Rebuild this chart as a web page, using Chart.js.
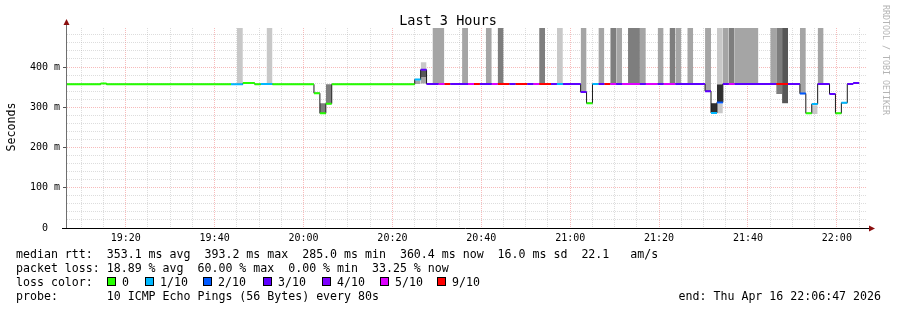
<!DOCTYPE html>
<html><head><meta charset="utf-8">
<script src="https://cdn.jsdelivr.net/npm/chart.js@4/dist/chart.umd.min.js"></script>
<style>html,body{margin:0;padding:0;background:#fff;}canvas{display:block;}</style>
</head><body>
<canvas id="c" width="897" height="310"></canvas>
<script>
// ---------------- data ----------------
const windowStart = '19:06:47';
const windowEnd = '22:06:47';
const titleText = 'Last 3 Hours';
const yAxisTitle = 'Seconds';
const watermark = 'RRDTOOL / TOBI OETIKER';

// median RTT runs (80 s steps): start time, median (ms), lost pings of 10
const medStart = ['19:06:21','19:14:21','19:15:41','19:43:41','19:46:21','19:49:01','19:50:21','19:53:01',
  '20:02:21','20:03:41','20:05:01','20:06:21','20:25:01','20:26:21','20:27:41','20:30:21','20:31:41','20:33:01',
  '20:37:01','20:38:21','20:39:41','20:42:21','20:43:41','20:46:21','20:47:41','20:50:21','20:51:41','20:53:01',
  '20:55:41','20:57:01','20:58:21','21:02:21','21:03:41','21:05:01','21:06:21','21:07:41','21:09:01','21:10:21',
  '21:11:41','21:15:41','21:17:01','21:19:41','21:21:01','21:23:41','21:30:21','21:31:41','21:33:01','21:34:21',
  '21:35:41','21:37:01','21:46:21','21:49:01','21:51:41','21:53:01','21:54:21','21:55:41','21:58:21','21:59:41',
  '22:01:01','22:02:21','22:03:41'];
const medValue = [357,359,357,357,360,357,358,357,
  335,285,309,357,369,393,358,358,358,358,
  358,358,358,358,358,358,358,358,358,358,
  358,358,358,338,310,358,358,358,358,358,
  358,358,358,358,358,358,340,286,312,358,
  358,358,358,358,334,285,308,358,333,285,
  311,358,360];
const medLoss = [0,0,0,1,0,0,1,0,
  0,0,0,0,1,3,3,5,6,3,
  5,6,3,5,6,3,6,3,5,6,
  3,1,3,3,0,1,3,6,5,3,
  5,3,5,3,5,3,3,1,2,3,
  5,3,6,3,2,0,1,3,3,0,
  1,3,3];
const medEnd = '22:05:01';

// smoke (ping spread) bands
const smokeFrom = ['19:45:01','19:51:41','20:03:41','20:05:01','20:25:01','20:26:21','20:26:21','20:26:21',
  '20:29:01','20:35:41','20:41:01','20:43:41','20:53:01','20:57:01','21:02:21','21:06:21','21:09:01','21:10:21',
  '21:13:01','21:15:41','21:19:41','21:22:21','21:23:41','21:26:21','21:30:21','21:31:41','21:33:01','21:33:01',
  '21:33:01','21:34:21','21:35:41','21:37:01','21:45:01','21:46:21','21:47:41','21:51:41','21:54:21','21:55:41'];
const smokeTo = ['19:46:21','19:53:01','20:05:01','20:06:21','20:26:21','20:27:41','20:27:41','20:27:41',
  '20:31:41','20:37:01','20:42:21','20:45:01','20:54:21','20:58:21','21:03:41','21:07:41','21:10:21','21:11:41',
  '21:15:41','21:17:01','21:21:01','21:23:41','21:25:01','21:27:41','21:31:41','21:33:01','21:34:21','21:34:21',
  '21:34:21','21:35:41','21:37:01','21:42:21','21:46:21','21:47:41','21:49:01','21:53:01','21:55:41','21:57:01'];
const smokeLow = [357,358,285,310,358,359,374,395,
  358,358,358,358,358,358,338,358,358,358,
  358,358,358,358,358,358,340,286,357,313,
  285,358,358,358,358,333,310,334,283,358];
const smokeHigh = [520,520,310,357,367,374,391,412,
  520,520,520,520,520,520,520,520,520,520,
  520,520,520,520,520,520,520,310,520,357,
  309,520,520,520,520,520,520,520,305,520];
const smokeLevel = [1,1,3,3,2,2,4,1,
  2,2,2,3,3,1,2,2,3,2,
  3,2,2,3,2,2,2,5,1,5,
  1,2,3,2,2,3,4,2,1,2];

const lossLabels = ['0','1/10','2/10','3/10','4/10','5/10','9/10'];
const lossColors = ['#26ff00','#00b8ff','#0059ff','#5e00ff','#7e00ff','#dd00ff','#ff0000'];

const yTickValues = [0,100,200,300,400];
const yTickLabels = ['0  ','100 m','200 m','300 m','400 m'];
const xTickLabels = ['19:20','19:40','20:00','20:20','20:40','21:00','21:20','21:40','22:00'];

const legendLines = [
  'median rtt:  353.1 ms avg  393.2 ms max  285.0 ms min  360.4 ms now  16.0 ms sd  22.1   am/s',
  'packet loss: 18.89 % avg  60.00 % max  0.00 % min  33.25 % now',
  'loss color:',
  'probe:       10 ICMP Echo Pings (56 Bytes) every 80s'
];
const endText = 'end: Thu Apr 16 22:06:47 2026';

// ---------------- build ----------------
function sec(s){const p=s.split(':').map(Number);return p[0]*3600+p[1]*60+(p[2]||0);}
const shade = {1:'#c8c8c8',2:'#a5a5a5',3:'#7e7e7e',4:'#575757',5:'#2f2f2f'};
const X0 = sec(windowStart), X1 = sec(windowEnd);

const datasets = [];
lossColors.forEach((col,b)=>{
  const data=[];
  medStart.forEach((s,i)=>{
    if (Math.min(medLoss[i],6)!==b) return;
    const t0=sec(s), t1=sec(i+1<medStart.length?medStart[i+1]:medEnd);
    data.push({x:t0,y:medValue[i]},{x:t1,y:medValue[i]},{x:t1,y:null});
  });
  datasets.push({label:lossLabels[b],data,borderColor:col,borderWidth:2,pointRadius:0,fill:false,
    spanGaps:false,order:0,borderCapStyle:'butt'});
});
const blk = medStart.map((s,i)=>({x:sec(s),y:medValue[i]}));
blk.push({x:sec(medEnd),y:medValue[medValue.length-1]});
datasets.push({label:'median',data:blk,stepped:'before',borderColor:'#1a1a1a',borderWidth:1,pointRadius:0,fill:false,order:1});
smokeFrom.forEach((f,i)=>{
  datasets.push({label:'smoke',data:[{x:sec(f),y:smokeHigh[i]},{x:sec(smokeTo[i]),y:smokeHigh[i]}],
    borderColor:'rgba(0,0,0,0)',borderWidth:0,pointRadius:0,fill:{value:smokeLow[i]},
    backgroundColor:shade[smokeLevel[i]],order:2});
});

const xMajor = xTickLabels.map(sec);
const xTicks=[]; for(let t=Math.ceil(X0/300)*300;t<=X1;t+=300) xTicks.push(t);
const yTicks=[]; for(let v=0;v<=480;v+=20) yTicks.push(v);

const MINOR='rgba(175,175,175,0.42)', MAJOR='rgba(240,120,120,0.5)';
const MONO='DejaVu Sans Mono';
const decor = {
  id:'decor',
  afterDraw(chart){
    const c=chart.ctx, a=chart.chartArea;
    c.save();
    // axes
    c.strokeStyle='#6e6e6e'; c.lineWidth=1;
    c.beginPath(); c.moveTo(a.left-0.5,a.bottom); c.lineTo(a.left-0.5,a.top-4); c.stroke();
    c.strokeStyle='#000';
    c.beginPath(); c.moveTo(a.left-5,a.bottom+0.5); c.lineTo(a.right+2,a.bottom+0.5); c.stroke();
    c.fillStyle='#8b0f0f';
    c.beginPath(); c.moveTo(a.left-0.5,a.top-9); c.lineTo(a.left-3.5,a.top-3); c.lineTo(a.left+2.5,a.top-3); c.closePath(); c.fill();
    c.beginPath(); c.moveTo(a.right+8,a.bottom+0.5); c.lineTo(a.right+2,a.bottom-2.5); c.lineTo(a.right+2,a.bottom+3.5); c.closePath(); c.fill();
    // title
    c.fillStyle='#000'; c.textBaseline='alphabetic';
    c.font='13.5px "'+MONO+'"'; c.textAlign='center';
    c.fillText(titleText,448,25);
    // y unit
    c.save(); c.translate(15,127); c.rotate(-Math.PI/2);
    c.font='11.6px "'+MONO+'"'; c.fillText(yAxisTitle,0,0); c.restore();
    // watermark
    c.save(); c.translate(883,5); c.rotate(Math.PI/2);
    c.font='8.3px "'+MONO+'"'; c.fillStyle='#b4b4b4'; c.textAlign='left'; c.fillText(watermark,0,0); c.restore();
    // legend
    c.font='11.6px "'+MONO+'"'; c.textAlign='left'; c.fillStyle='#000';
    const base=[258,272,286,300];
    legendLines.forEach((t,i)=>c.fillText(t,16,base[i]));
    c.textAlign='right'; c.fillText(endText,881,300); c.textAlign='left';
    const boxX=[107,145,203,263,322,380,437];
    lossLabels.forEach((l,i)=>{
      c.fillStyle=lossColors[i]; c.fillRect(boxX[i]+0.5,277.5,8,8);
      c.strokeStyle='#000'; c.lineWidth=1; c.strokeRect(boxX[i]+0.5,277.5,8,8);
      c.fillStyle='#000'; c.fillText(l,boxX[i]+15,286);
    });
    c.restore();
  }
};

new Chart(document.getElementById('c'),{
  type:'line',
  data:{datasets},
  options:{
    responsive:false, animation:false, devicePixelRatio:1,
    layout:{padding:{left:0,right:30,top:28,bottom:0}},
    plugins:{legend:{display:false},tooltip:{enabled:false},title:{display:false}},
    elements:{point:{radius:0},line:{tension:0}},
    scales:{
      x:{type:'linear',min:X0,max:X1,
        afterBuildTicks:s=>{s.ticks=xTicks.map(v=>({value:v}));},
        afterFit:s=>{s.height=82;},
        ticks:{autoSkip:false,maxRotation:0,minRotation:0,padding:4,color:'#000',
          font:{family:MONO,size:10},
          callback:v=>{const i=xMajor.indexOf(v);return i>=0?xTickLabels[i]:'';}},
        grid:{drawTicks:false,lineWidth:1,
          color:c=>{const v=c.tick?c.tick.value:0;return xMajor.includes(v)?MAJOR:MINOR;}},
        border:{display:false,dash:[1,1]}
      },
      y:{min:0,max:496.9,
        afterBuildTicks:s=>{s.ticks=yTicks.map(v=>({value:v}));},
        afterFit:s=>{s.width=67;},
        ticks:{autoSkip:false,padding:3,color:'#000',font:{family:MONO,size:10},
          callback:v=>{const i=yTickValues.indexOf(v);return i>=0?yTickLabels[i]:'';}},
        grid:{drawTicks:true,tickLength:4,lineWidth:1,
          color:c=>{const v=c.tick?c.tick.value:0;if(v===0)return 'rgba(0,0,0,0)';return v%100===0?MAJOR:MINOR;},
          tickColor:c=>{const v=c.tick?c.tick.value:1;return v%100===0?'#555':'rgba(0,0,0,0)';}},
        border:{display:false,dash:[1,1]}
      }
    }
  },
  plugins:[decor]
});
</script>
</body></html>
